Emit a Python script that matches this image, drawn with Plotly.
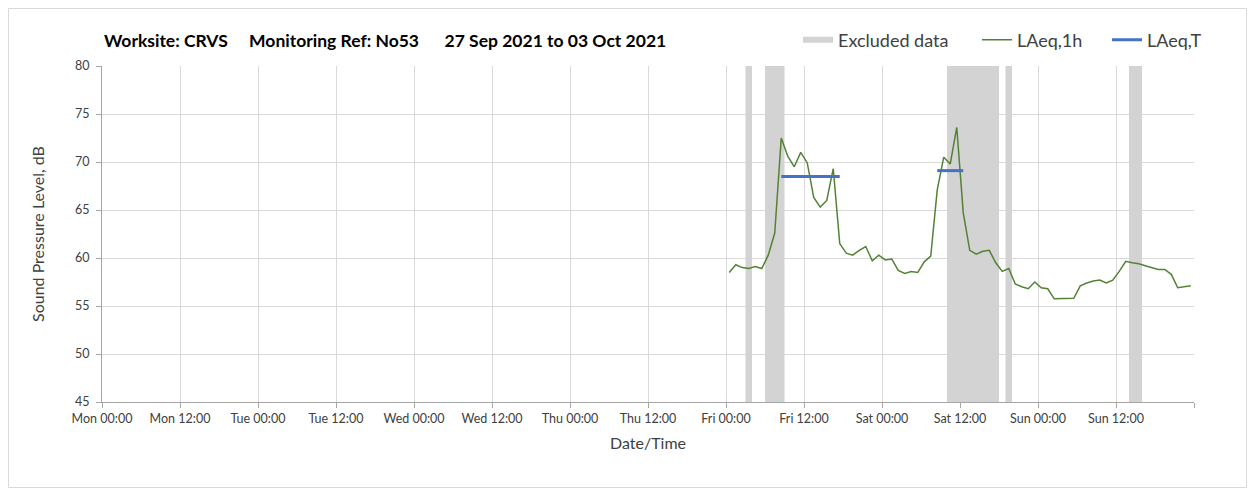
import pandas as pd
import plotly.graph_objects as go

# ---- data ----
start_hourly = "2021-10-01 00:30"
fri_vals = [58.5, 59.3, 59.0, 58.9, 59.1, 58.9, 60.3, 62.6, 72.5, 70.6, 69.5, 71.0,
            69.9, 66.3, 65.3, 66.0, 69.3, 61.5, 60.5, 60.3, 60.8, 61.2, 59.7, 60.3]
sat_vals = [59.8, 59.9, 58.7, 58.4, 58.6, 58.5, 59.6, 60.2, 67.1, 70.5, 69.8, 73.6,
            64.7, 60.8, 60.4, 60.7, 60.8, 59.5, 58.6, 58.9, 57.3, 57.0, 56.8, 57.5]
sun_vals = [56.9, 56.8, 55.75, 55.75, 55.75, 55.8, 57.1, 57.4, 57.6, 57.7, 57.4, 57.7,
            58.6, 59.65, 59.5, 59.4, 59.2, 59.0, 58.8, 58.8, 58.3, 56.9, 57.0, 57.1]

laeq_t_starts = ["2021-10-01 08:30", "2021-10-02 08:30"]
laeq_t_ends = ["2021-10-01 17:30", "2021-10-02 12:30"]
laeq_t_vals = [68.5, 69.1]

excl_starts = ["2021-10-01 03:00", "2021-10-01 06:00", "2021-10-02 10:00",
               "2021-10-02 19:00", "2021-10-03 14:00"]
excl_ends = ["2021-10-01 04:00", "2021-10-01 09:00", "2021-10-02 18:00",
             "2021-10-02 20:00", "2021-10-03 16:00"]

x_start = "2021-09-27 00:00"
x_end = "2021-10-04 00:00"
y_min, y_max = 45, 80

tick_labels = ["Mon 00:00", "Mon 12:00", "Tue 00:00", "Tue 12:00", "Wed 00:00",
               "Wed 12:00", "Thu 00:00", "Thu 12:00", "Fri 00:00", "Fri 12:00",
               "Sat 00:00", "Sat 12:00", "Sun 00:00", "Sun 12:00", ""]

title_text = "Worksite: CRVS     Monitoring Ref: No53      27 Sep 2021 to 03 Oct 2021"

# ---- build ----
vals = fri_vals + sat_vals + sun_vals
times = pd.date_range(start_hourly, periods=len(vals), freq="h")
tick_vals = pd.date_range(x_start, x_end, freq="12h")

FONT = "Lato, 'Open Sans', sans-serif"
TXT = "#404040"
W, H = 1239, 480
ML, MR, MT, MB = 94, 53, 58, 86
PW, PH = W - ML - MR, H - MT - MB

fig = go.Figure()

ex_x, ex_y = [], []
for s, e in zip(excl_starts, excl_ends):
    ex_x += [s, e, e, s, s, None]
    ex_y += [y_min, y_min, y_max, y_max, y_min, None]
fig.add_trace(go.Scatter(x=ex_x, y=ex_y, fill="toself", mode="none",
                         fillcolor="rgb(211,211,211)", name="Excluded data",
                         hoverinfo="skip", legend="legend"))

fig.add_trace(go.Scatter(x=times, y=vals, mode="lines", name="LAeq,1h",
                         line=dict(color="rgb(84,130,53)", width=1.5), legend="legend2"))

lt_x, lt_y = [], []
for s, e, v in zip(laeq_t_starts, laeq_t_ends, laeq_t_vals):
    lt_x += [s, e, None]
    lt_y += [v, v, None]
fig.add_trace(go.Scatter(x=lt_x, y=lt_y, mode="lines", name="LAeq,T",
                         line=dict(color="rgb(68,114,196)", width=3), legend="legend3"))


def px_x(p):  # screenshot px (page has 8px body margin) -> paper x
    return (p - 8 - ML) / PW


def px_y(p):
    return 1 + (MT - (p - 8)) / PH


leg_common = dict(orientation="h", xanchor="left", yanchor="middle", y=px_y(40),
                  font=dict(size=18, color=TXT, family=FONT), bgcolor="rgba(0,0,0,0)",
                  itemwidth=30)

fig.update_layout(
    width=W, height=H,
    margin=dict(l=ML, r=MR, t=MT, b=MB),
    paper_bgcolor="white", plot_bgcolor="white",
    font=dict(family=FONT, color=TXT),
    showlegend=True,
    legend=dict(x=px_x(798), **leg_common),
    legend2=dict(x=px_x(977), **leg_common),
    legend3=dict(x=px_x(1107), **leg_common),
    annotations=[dict(text="<b>" + title_text + "</b>", xref="paper", yref="paper",
                      x=0.0, y=px_y(40), xanchor="left", yanchor="middle",
                      showarrow=False, font=dict(size=17.5, color="black", family=FONT))],
    shapes=[dict(type="rect", xref="paper", yref="paper",
                 x0=-(ML - 0.5) / PW, x1=1 + (MR - 0.5) / PW,
                 y0=-(MB - 0.5) / PH, y1=1 + (MT - 0.5) / PH,
                 line=dict(color="#d9d9d9", width=1),
                 fillcolor="rgba(0,0,0,0)", layer="below")],
)

fig.update_xaxes(
    type="date", range=[x_start, x_end],
    tickmode="array", tickvals=tick_vals, ticktext=tick_labels,
    showgrid=True, gridcolor="#d9d9d9", gridwidth=1,
    showline=True, linecolor="#a6a6a6", linewidth=1,
    ticks="outside", ticklen=5, tickcolor="#a6a6a6",
    tickfont=dict(size=12.5, color=TXT),
    title=dict(text="Date/Time", font=dict(size=16, color=TXT), standoff=12),
    zeroline=False,
)
fig.update_yaxes(
    range=[y_min, y_max], dtick=5,
    showgrid=True, gridcolor="#d9d9d9", gridwidth=1,
    showline=True, linecolor="#a6a6a6", linewidth=1,
    ticks="outside", ticklen=5, tickcolor="#a6a6a6",
    tickfont=dict(size=12.5, color=TXT), ticklabelstandoff=4,
    title=dict(text="Sound Pressure Level, dB", font=dict(size=16, color=TXT), standoff=26),
    zeroline=False,
)

fig.write_html("out.html")
